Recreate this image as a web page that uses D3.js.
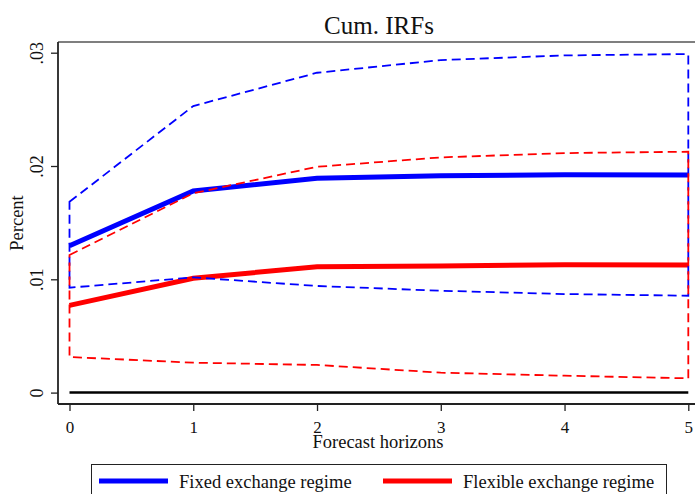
<!DOCTYPE html>
<html>
<head>
<meta charset="utf-8">
<script src="https://cdn.jsdelivr.net/npm/d3@7/dist/d3.min.js"></script>
<style>
  body { margin: 0; background: #fff; }
  svg { display: block; font-family: "Liberation Serif", "Times New Roman", serif; }
</style>
</head>
<body>
<div id="chart"></div>
<script>
// horizons and cumulative IRFs
var horizons = [0, 1, 2, 3, 4, 5];
var fixedIrf = [0.01296, 0.01779, 0.01891, 0.01914, 0.01923, 0.0192];
var fixedUpper = [0.01684, 0.02529, 0.02823, 0.02935, 0.02976, 0.02988];
var fixedLower = [0.00926, 0.01017, 0.00941, 0.00899, 0.0087, 0.00855];
var flexIrf = [0.0077, 0.01009, 0.01111, 0.01117, 0.01129, 0.01126];
var flexUpper = [0.01214, 0.01759, 0.01993, 0.02076, 0.02114, 0.02126];
var flexLower = [0.00314, 0.00264, 0.00244, 0.00176, 0.00149, 0.00126];
var yTicks = [0, 0.01, 0.02, 0.03];
var legendLabels = ["Fixed exchange regime", "Flexible exchange regime"];

var width = 695, height = 494;
var plotLeft = 58, plotTop = 42, plotBottom = 404;

var svg = d3.select("#chart").append("svg")
  .attr("width", width)
  .attr("height", height);

var x = d3.scaleLinear().domain([0, 5]).range([69.5, 688.3]);
var y = d3.scaleLinear().domain([0, 0.03]).range([392.6, 52.7]);

// frame: top border, left and bottom axes
svg.append("line")
  .attr("x1", plotLeft).attr("x2", width)
  .attr("y1", plotTop).attr("y2", plotTop)
  .style("stroke", "#555").style("stroke-width", 1.5);
svg.append("line")
  .attr("x1", plotLeft).attr("x2", plotLeft)
  .attr("y1", plotTop).attr("y2", plotBottom)
  .style("stroke", "#222").style("stroke-width", 1.8);
svg.append("line")
  .attr("x1", plotLeft).attr("x2", width)
  .attr("y1", plotBottom).attr("y2", plotBottom)
  .style("stroke", "#222").style("stroke-width", 1.8);

// y axis
var yAxis = svg.append("g")
  .attr("transform", "translate(" + plotLeft + ",0)")
  .call(d3.axisLeft(y).tickValues(yTicks).tickSize(7).tickPadding(0)
    .tickFormat(function (d) { return d === 0 ? "0" : d3.format(".2f")(d).replace(/^0/, ""); }));
yAxis.select(".domain").remove();
yAxis.selectAll(".tick line").style("stroke", "#222").style("stroke-width", 1.3);
yAxis.selectAll(".tick text")
  .attr("x", null).attr("dy", null)
  .attr("text-anchor", "middle")
  .attr("transform", "translate(-15,0) rotate(-90)")
  .style("font-family", "Liberation Serif").style("font-size", "18px").style("fill", "#111");

// x axis
var xAxis = svg.append("g")
  .attr("transform", "translate(0," + plotBottom + ")")
  .call(d3.axisBottom(x).tickValues(horizons).tickSize(7).tickPadding(0)
    .tickFormat(d3.format("d")));
xAxis.select(".domain").remove();
xAxis.selectAll(".tick line").style("stroke", "#222").style("stroke-width", 1.3);
xAxis.selectAll(".tick text")
  .attr("y", 29).attr("dy", null)
  .style("font-family", "Liberation Serif").style("font-size", "17px").style("fill", "#111");

// titles
svg.append("text")
  .attr("x", 379).attr("y", 34)
  .attr("text-anchor", "middle")
  .style("font-size", "25px").style("fill", "#111")
  .text("Cum. IRFs");
svg.append("text")
  .attr("x", 378).attr("y", 448)
  .attr("text-anchor", "middle")
  .style("font-size", "18.5px").style("fill", "#111")
  .text("Forecast horizons");
svg.append("text")
  .attr("transform", "translate(23,223) rotate(-90)")
  .attr("text-anchor", "middle")
  .style("font-size", "18.5px").style("fill", "#111")
  .text("Percent");

// zero line
svg.append("line")
  .attr("x1", x(0)).attr("x2", x(5))
  .attr("y1", y(0)).attr("y2", y(0))
  .style("stroke", "#000").style("stroke-width", 2.5);

var line = d3.line()
  .x(function (d) { return x(d[0]); })
  .y(function (d) { return y(d[1]); });

function band(upper, lower) {
  var pts = horizons.map(function (h, i) { return [h, upper[i]]; });
  for (var i = horizons.length - 1; i >= 0; i--) pts.push([horizons[i], lower[i]]);
  return line(pts) + "Z";
}

function series(vals) {
  return horizons.map(function (h, i) { return [h, vals[i]]; });
}

// point estimates
svg.append("path").attr("d", line(series(fixedIrf)))
  .style("fill", "none").style("stroke", "#0000ff").style("stroke-width", 5);
svg.append("path").attr("d", line(series(flexIrf)))
  .style("fill", "none").style("stroke", "#ff0000").style("stroke-width", 5);

// confidence bands drawn as closed dashed outlines
svg.append("path").attr("d", band(fixedUpper, fixedLower))
  .style("fill", "none").style("stroke", "#0000ff").style("stroke-width", 1.8)
  .style("stroke-dasharray", "9,5");
svg.append("path").attr("d", band(flexUpper, flexLower))
  .style("fill", "none").style("stroke", "#ff0000").style("stroke-width", 1.8)
  .style("stroke-dasharray", "9,5");

// legend
svg.append("rect")
  .attr("x", 91.5).attr("y", 464.5)
  .attr("width", 575).attr("height", 40)
  .style("fill", "#fff").style("stroke", "#222").style("stroke-width", 1);

var legendColors = ["#0000ff", "#ff0000"];
var legendX = [99, 383];
legendLabels.forEach(function (lab, i) {
  svg.append("line")
    .attr("x1", legendX[i]).attr("x2", legendX[i] + 69)
    .attr("y1", 481).attr("y2", 481)
    .style("stroke", legendColors[i]).style("stroke-width", 5);
  svg.append("text")
    .attr("x", legendX[i] + 80).attr("y", 488)
    .style("font-size", "18.5px").style("fill", "#111")
    .text(lab);
});
</script>
</body>
</html>
